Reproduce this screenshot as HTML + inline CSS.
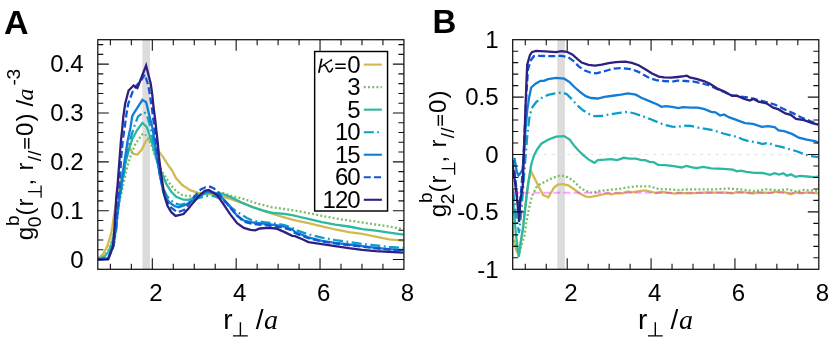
<!DOCTYPE html>
<html><head><meta charset="utf-8"><title>chart</title>
<style>html,body{margin:0;padding:0;background:#fff}body{width:830px;height:342px;overflow:hidden;font-family:"Liberation Sans",sans-serif}</style>
</head><body>
<svg width="830" height="342" viewBox="0 0 830 342" style="display:block;font-family:'Liberation Sans',sans-serif;will-change:transform;filter:blur(0.45px)">
<rect width="830" height="342" fill="#fff"/>
<clipPath id="clipA"><rect x="97.80" y="39.70" width="306.10" height="229.60"/></clipPath>
<rect x="142.40" y="39.70" width="7.60" height="229.60" fill="#dcdcdc"/>
<g clip-path="url(#clipA)" fill="none" stroke-width="2.30" stroke-linejoin="miter" stroke-miterlimit="6">
<path d="M98.1 258.1 L102.4 255.0 L107.3 246.4 L111.0 234.1 L112.2 228.0 L114.0 215.0 L117.0 198.0 L120.5 180.0 L125.2 160.6 L128.9 146.5 L133.2 153.9 L137.5 154.5 L141.8 149.6 L146.1 140.4 L149.1 139.7 L152.5 142.0 L156.0 147.0 L159.4 152.1 L163.6 157.8 L168.8 166.0 L172.5 171.1 L175.9 178.0 L182.3 185.0 L187.2 188.3 L190.0 190.2 L198.1 192.9 L210.2 194.2 L220.9 196.2 L230.3 198.9 L243.8 203.6 L254.6 207.7 L265.3 211.7 L276.1 215.0 L284.1 217.3 L292.2 219.6 L300.0 221.5 L308.4 223.2 L321.9 226.3 L335.3 229.5 L348.8 232.1 L362.2 233.9 L375.7 236.6 L389.1 239.3 L403.5 240.7" stroke="#D2B951"/>
<path d="M98.1 258.5 L104.0 256.0 L108.5 250.0 L112.0 241.0 L115.0 228.0 L117.5 213.0 L120.3 198.1 L124.6 178.4 L128.2 163.5 L130.7 155.7 L135.6 143.4 L143.0 133.6 L147.3 136.0 L151.6 145.9 L153.4 151.4 L157.0 161.0 L161.4 171.1 L166.3 178.4 L171.3 185.8 L176.2 191.2 L182.0 195.0 L187.0 196.0 L193.2 196.0 L200.0 195.5 L210.0 193.5 L220.9 192.2 L230.3 195.6 L243.8 198.9 L257.2 203.6 L270.7 207.0 L284.1 209.0 L295.0 210.6 L308.4 213.1 L321.9 215.8 L335.3 218.4 L348.8 220.5 L362.2 222.5 L375.7 224.5 L389.1 226.5 L403.5 229.3" stroke="#7BBF6A" stroke-dasharray="2 2.2"/>
<path d="M98.1 258.8 L104.0 257.0 L108.5 252.0 L112.0 243.0 L114.5 232.0 L116.5 218.0 L118.4 203.0 L121.5 186.0 L125.2 164.3 L128.9 149.6 L132.6 138.5 L136.9 130.5 L138.1 128.7 L142.4 122.9 L146.7 126.9 L148.6 132.0 L152.8 145.9 L157.4 162.2 L161.4 172.3 L166.3 183.9 L171.3 191.8 L176.2 196.7 L183.5 199.7 L188.5 199.9 L193.4 198.1 L198.1 195.6 L208.8 192.9 L220.9 193.5 L230.3 196.9 L241.1 202.3 L251.9 207.0 L262.6 210.3 L273.4 213.0 L284.1 213.9 L292.2 215.2 L300.0 217.0 L308.4 218.9 L321.9 222.1 L335.3 224.7 L348.8 226.5 L362.2 229.2 L375.7 230.6 L389.1 232.6 L403.5 234.7" stroke="#2DB8A2"/>
<path d="M98.1 259.2 L108.5 258.3 L113.8 245.0 L116.5 228.0 L118.4 203.0 L122.1 184.6 L126.4 158.0 L130.1 139.7 L134.6 125.3 L138.1 116.4 L144.2 111.9 L147.3 116.4 L149.8 124.4 L152.0 135.0 L154.5 148.0 L157.5 163.0 L160.5 178.0 L163.5 189.0 L167.0 196.0 L171.0 200.5 L175.0 203.5 L179.9 204.8 L186.0 203.6 L192.0 201.0 L198.1 198.2 L206.1 196.2 L214.2 196.2 L221.0 199.0 L227.7 205.0 L234.4 210.0 L241.1 214.4 L247.0 218.0 L253.2 220.8 L265.3 222.3 L276.1 223.7 L284.1 225.0 L292.2 227.7 L295.0 229.9 L308.4 234.3 L321.9 237.6 L335.3 240.1 L348.8 242.0 L362.2 244.0 L375.7 245.5 L389.1 246.9 L403.5 248.0" stroke="#0B9FC7" stroke-dasharray="10 3.5 1.8 3.5" stroke-linecap="butt"/>
<path d="M98.1 259.3 L108.5 258.5 L113.5 246.0 L116.0 228.0 L118.0 210.0 L120.5 190.0 L124.6 160.6 L127.6 141.0 L130.4 128.0 L132.2 116.4 L133.8 113.3 L142.4 99.8 L146.1 102.3 L149.1 114.6 L152.2 126.9 L154.5 140.0 L157.0 158.0 L160.0 176.0 L163.0 190.0 L166.0 198.0 L170.0 203.0 L174.5 206.0 L178.6 207.3 L186.0 204.8 L193.4 199.9 L198.0 196.5 L203.0 193.2 L208.0 191.7 L213.0 192.5 L218.2 194.5 L223.6 199.6 L229.0 205.0 L237.1 215.8 L243.8 220.5 L253.2 222.5 L265.3 223.8 L276.1 225.2 L284.1 226.5 L292.2 229.2 L295.0 232.0 L308.4 237.4 L321.9 240.8 L335.3 242.8 L348.8 244.5 L362.2 246.1 L375.7 247.8 L389.1 249.1 L403.5 250.2" stroke="#117DD6"/>
<path d="M98.1 259.3 L108.5 258.5 L113.5 245.0 L115.5 228.0 L117.5 205.0 L119.5 184.0 L120.9 161.9 L122.7 141.0 L124.6 128.0 L126.4 114.6 L128.3 103.5 L132.3 92.5 L136.6 85.5 L141.0 80.5 L144.8 74.5 L148.4 85.6 L149.1 90.0 L151.6 106.0 L154.1 125.6 L156.0 142.0 L158.0 160.0 L160.5 176.0 L163.5 193.0 L167.0 202.0 L171.5 208.0 L177.4 212.2 L184.0 210.0 L189.0 204.0 L194.0 196.9 L200.8 189.5 L205.5 187.3 L210.2 186.8 L214.0 188.5 L218.2 192.2 L223.6 199.6 L230.3 207.7 L235.7 214.0 L243.8 221.8 L253.2 224.0 L265.3 225.2 L276.1 226.5 L284.1 227.8 L292.2 230.4 L295.0 233.0 L308.4 238.2 L321.9 241.4 L335.3 243.4 L348.8 245.1 L362.2 246.7 L375.7 248.3 L389.1 249.6 L403.5 250.6" stroke="#0F57D8" stroke-dasharray="7 3.2"/>
<path d="M98.1 259.7 L107.9 259.3 L113.0 246.0 L114.4 230.0 L115.2 215.0 L116.2 198.0 L117.6 184.6 L119.4 161.0 L120.9 141.0 L122.3 128.0 L123.3 117.0 L125.2 103.5 L128.6 90.5 L133.6 85.5 L137.4 88.0 L146.1 65.5 L150.7 83.5 L152.3 95.0 L153.4 106.0 L155.3 120.7 L156.3 130.0 L157.7 142.2 L159.3 160.0 L161.4 176.0 L164.5 196.0 L167.6 206.0 L171.3 212.2 L175.6 215.9 L183.5 214.0 L188.5 208.5 L193.4 202.4 L198.1 196.9 L204.8 190.8 L208.8 189.9 L216.9 194.9 L223.6 204.3 L230.3 214.4 L237.1 223.2 L243.8 227.9 L250.5 229.9 L255.2 230.3 L259.9 228.5 L268.0 227.9 L276.1 228.5 L284.1 231.9 L292.2 235.9 L295.0 236.2 L303.0 239.5 L308.4 242.1 L321.9 244.1 L335.3 246.1 L348.8 248.2 L362.2 249.9 L375.7 251.2 L389.1 251.9 L403.5 252.6" stroke="#2E2080"/>
</g>
<path d="M110.38 269.30v-5.5M110.38 39.70v5.5M131.35 269.30v-5.5M131.35 39.70v5.5M173.28 269.30v-5.5M173.28 39.70v5.5M194.24 269.30v-5.5M194.24 39.70v5.5M215.21 269.30v-5.5M215.21 39.70v5.5M257.14 269.30v-5.5M257.14 39.70v5.5M278.11 269.30v-5.5M278.11 39.70v5.5M299.07 269.30v-5.5M299.07 39.70v5.5M341.00 269.30v-5.5M341.00 39.70v5.5M361.97 269.30v-5.5M361.97 39.70v5.5M382.93 269.30v-5.5M382.93 39.70v5.5M152.31 269.30v-11M152.31 39.70v11M236.17 269.30v-11M236.17 39.70v11M320.04 269.30v-11M320.04 39.70v11M97.80 249.76h5.5M403.90 249.76h-5.5M97.80 239.99h5.5M403.90 239.99h-5.5M97.80 230.22h5.5M403.90 230.22h-5.5M97.80 220.45h5.5M403.90 220.45h-5.5M97.80 200.91h5.5M403.90 200.91h-5.5M97.80 191.14h5.5M403.90 191.14h-5.5M97.80 181.37h5.5M403.90 181.37h-5.5M97.80 171.60h5.5M403.90 171.60h-5.5M97.80 152.06h5.5M403.90 152.06h-5.5M97.80 142.29h5.5M403.90 142.29h-5.5M97.80 132.52h5.5M403.90 132.52h-5.5M97.80 122.75h5.5M403.90 122.75h-5.5M97.80 103.21h5.5M403.90 103.21h-5.5M97.80 93.44h5.5M403.90 93.44h-5.5M97.80 83.67h5.5M403.90 83.67h-5.5M97.80 73.90h5.5M403.90 73.90h-5.5M97.80 54.36h5.5M403.90 54.36h-5.5M97.80 44.59h5.5M403.90 44.59h-5.5M97.80 259.53h11M403.90 259.53h-11M97.80 210.68h11M403.90 210.68h-11M97.80 161.83h11M403.90 161.83h-11M97.80 112.98h11M403.90 112.98h-11M97.80 64.13h11M403.90 64.13h-11" stroke="#111" stroke-width="1.1" fill="none"/>
<rect x="97.80" y="39.70" width="306.10" height="229.60" fill="none" stroke="#111" stroke-width="1.25"/>
<text x="83.70" y="267.83" font-size="24" text-anchor="end">0</text>
<text x="83.70" y="218.98" font-size="24" text-anchor="end">0.1</text>
<text x="83.70" y="170.13" font-size="24" text-anchor="end">0.2</text>
<text x="83.70" y="121.28" font-size="24" text-anchor="end">0.3</text>
<text x="83.70" y="72.43" font-size="24" text-anchor="end">0.4</text>
<text x="155.91" y="300.60" font-size="24" text-anchor="middle">2</text>
<text x="239.77" y="300.60" font-size="24" text-anchor="middle">4</text>
<text x="323.64" y="300.60" font-size="24" text-anchor="middle">6</text>
<text x="407.50" y="300.60" font-size="24" text-anchor="middle">8</text>
<text x="223.20" y="328.8" font-size="28">r</text>
<path d="M233.00 335.9H247.80M240.40 335.9V322.3" stroke="#000" stroke-width="1.4" fill="none"/>
<text x="255.70" y="328.8" font-size="28">/</text>
<text x="264.00" y="328.8" font-size="28" font-family="'Liberation Serif',serif" font-style="italic">a</text>
<clipPath id="clipB"><rect x="512.70" y="39.70" width="306.10" height="229.60"/></clipPath>
<rect x="557.30" y="39.70" width="7.60" height="229.60" fill="#dcdcdc"/>
<path d="M512.70 154.50H818.80" stroke="#e3e3e3" stroke-width="1" stroke-dasharray="3.2 4.6" fill="none"/>
<g clip-path="url(#clipB)" fill="none" stroke-width="2.30" stroke-linejoin="miter" stroke-miterlimit="6">
<path d="M512.9 222.0 L512.9 237.8 L516.6 251.3 L519.0 254.0 L522.0 235.0 L524.5 215.0 L526.7 195.0 L528.8 180.0 L531.2 171.5 L534.6 178.2 L538.6 186.5 L543.1 195.0 L548.4 197.2 L553.7 188.0 L557.7 184.7 L563.0 184.1 L568.3 185.3 L574.9 189.8 L580.2 193.8 L585.5 196.4 L589.5 197.2 L596.1 195.8 L602.8 194.3 L608.1 193.4 L611.4 194.5 L614.7 193.3 L622.5 193.3 L627.9 191.4 L631.9 192.4 L637.3 191.4 L645.3 190.3 L652.1 192.0 L656.1 193.0 L662.8 192.0 L668.2 192.8 L674.9 193.7 L680.3 192.8 L688.4 193.3 L699.1 192.8 L707.2 192.5 L715.0 192.6 L723.4 192.5 L732.9 193.4 L736.9 192.0 L745.0 192.3 L753.0 193.6 L757.1 192.5 L770.5 192.9 L775.9 191.6 L785.3 192.3 L790.7 194.3 L796.1 192.3 L801.4 193.4 L806.8 192.3 L818.3 193.4" stroke="#D2B951"/>
<path d="M513.0 236.0 L518.4 254.4 L521.0 247.0 L524.6 235.4 L526.4 221.9 L528.3 212.1 L530.1 203.5 L532.0 196.1 L534.4 191.2 L535.9 187.7 L540.0 184.3 L545.3 181.6 L552.1 178.2 L558.8 175.8 L564.2 175.8 L569.6 178.2 L574.9 182.3 L580.3 187.7 L585.7 191.0 L592.4 192.8 L599.1 191.0 L605.9 190.1 L618.4 189.0 L627.9 187.4 L637.3 186.3 L649.4 186.3 L658.8 189.0 L669.6 189.3 L677.6 190.1 L688.4 189.3 L699.1 189.3 L712.0 189.5 L728.8 188.5 L742.3 189.6 L754.4 191.2 L766.5 189.3 L777.2 190.3 L788.0 189.3 L796.1 191.6 L804.1 189.9 L818.3 190.9" stroke="#7BBF6A" stroke-dasharray="2 2.2"/>
<path d="M512.7 195.0 L514.1 213.0 L516.0 235.0 L518.8 256.9 L521.0 240.0 L522.8 230.0 L525.2 208.4 L527.2 190.3 L529.2 176.9 L531.2 164.8 L533.9 155.6 L537.3 149.2 L541.3 143.7 L548.0 139.7 L556.1 136.7 L564.2 136.1 L569.6 139.5 L574.9 146.6 L579.0 151.0 L583.0 154.8 L588.4 159.4 L594.4 162.8 L597.8 160.1 L604.5 159.7 L611.1 159.1 L617.1 160.1 L623.8 157.8 L629.2 158.7 L635.9 158.7 L641.3 160.1 L645.3 160.1 L649.4 161.8 L653.4 162.1 L658.1 164.8 L665.5 165.1 L673.6 166.1 L681.7 167.5 L686.4 165.9 L691.1 167.2 L696.4 168.2 L703.2 166.8 L711.2 168.3 L723.4 168.9 L732.9 169.7 L736.9 171.4 L740.9 170.7 L746.3 171.9 L754.4 172.9 L762.4 173.0 L770.0 174.9 L774.6 173.2 L779.2 174.5 L783.3 173.2 L787.0 175.7 L791.0 174.3 L795.4 176.8 L800.1 175.8 L806.8 176.5 L813.6 177.2 L818.3 176.7" stroke="#2DB8A2"/>
<path d="M513.0 190.0 L516.0 215.0 L519.0 233.0 L521.0 215.0 L523.0 190.0 L524.5 170.0 L525.8 153.0 L527.2 136.9 L529.2 119.0 L531.5 108.5 L535.9 102.3 L541.3 98.2 L548.0 94.9 L556.1 93.1 L562.8 92.6 L566.9 94.2 L572.2 99.6 L577.6 105.6 L583.0 110.3 L588.4 113.7 L594.4 116.2 L601.8 116.0 L607.2 114.8 L613.1 113.9 L621.1 112.6 L627.9 111.9 L634.6 113.5 L642.7 116.2 L650.7 119.3 L658.8 122.7 L665.5 125.1 L672.2 126.7 L677.6 127.0 L683.0 125.6 L691.1 126.0 L699.1 127.8 L707.2 129.1 L714.0 130.5 L723.4 133.5 L736.9 136.9 L743.6 139.7 L750.3 141.5 L757.1 142.3 L762.4 144.1 L767.8 142.8 L774.6 145.4 L782.6 147.2 L790.7 149.5 L797.4 151.5 L804.1 154.2 L809.5 155.8 L818.3 157.1" stroke="#0B9FC7" stroke-dasharray="10 3.5 1.8 3.5" stroke-linecap="butt"/>
<path d="M514.4 157.9 L516.8 171.9 L518.5 175.4 L520.5 173.0 L522.6 169.6 L524.2 150.0 L525.5 130.0 L527.2 110.3 L529.2 96.9 L531.2 87.5 L535.9 83.4 L540.6 80.8 L544.0 80.8 L548.0 79.1 L556.1 77.8 L564.2 78.7 L569.6 82.1 L574.9 87.5 L580.3 92.2 L585.7 96.2 L591.1 98.0 L597.8 98.5 L604.5 96.9 L614.4 95.5 L621.1 94.7 L627.9 93.3 L635.9 94.7 L641.3 97.8 L649.4 101.1 L657.4 104.5 L661.5 106.8 L665.5 106.2 L672.2 106.8 L678.3 108.1 L683.0 107.2 L691.1 107.6 L697.8 107.6 L704.5 109.2 L711.2 111.9 L715.4 112.4 L720.1 115.5 L724.1 114.5 L728.8 117.2 L736.9 120.2 L745.0 123.1 L753.0 123.9 L761.8 126.9 L767.8 126.2 L774.6 127.2 L778.6 130.3 L784.0 131.2 L792.0 133.9 L798.8 137.7 L806.8 139.7 L814.9 141.2 L818.3 142.6" stroke="#117DD6"/>
<path d="M512.7 160.0 L515.0 175.0 L517.0 195.0 L518.8 212.0 L520.8 195.0 L522.8 170.0 L524.3 140.0 L525.8 105.0 L527.9 70.0 L530.6 60.6 L533.9 56.2 L538.6 55.8 L552.1 56.2 L561.5 55.8 L568.2 57.2 L573.6 61.2 L579.0 66.6 L584.3 70.2 L591.1 72.9 L596.4 73.3 L601.8 72.0 L608.6 70.0 L611.7 68.9 L621.1 68.1 L631.9 69.2 L640.0 72.6 L648.0 77.3 L656.1 80.2 L664.2 81.0 L672.2 81.6 L677.6 80.6 L685.7 81.0 L693.8 81.6 L701.8 83.3 L709.9 85.6 L718.0 89.5 L725.0 92.3 L732.0 95.5 L740.0 96.5 L747.7 97.3 L755.7 99.3 L766.5 102.0 L774.6 104.5 L782.6 108.5 L789.3 111.5 L793.4 113.4 L801.4 117.5 L809.5 120.8 L818.3 124.4" stroke="#0F57D8" stroke-dasharray="7 3.2"/>
<path d="M512.7 166.0 L515.0 182.0 L517.2 200.0 L519.1 222.0 L520.4 199.7 L522.7 187.0 L523.8 155.7 L525.2 115.7 L526.5 80.7 L527.2 64.6 L529.9 55.2 L531.9 52.2 L535.9 50.9 L545.3 51.4 L556.1 52.2 L561.5 51.1 L566.9 51.8 L572.2 54.5 L577.6 59.2 L581.7 62.6 L588.4 64.9 L595.1 65.7 L601.8 64.6 L608.6 63.2 L615.8 62.2 L625.2 61.7 L631.9 62.8 L638.6 65.2 L645.3 69.2 L652.1 73.5 L658.8 76.6 L664.2 77.3 L670.9 77.7 L677.6 77.0 L684.3 76.2 L686.8 75.7 L689.7 77.3 L696.4 78.9 L704.5 81.3 L709.9 83.7 L718.1 88.9 L724.8 91.9 L732.2 95.9 L736.9 95.7 L743.6 98.6 L749.7 100.6 L753.7 98.9 L758.4 101.6 L766.5 103.3 L773.2 107.6 L778.6 109.4 L785.3 113.4 L790.7 114.8 L796.1 118.8 L804.1 120.2 L812.2 123.1 L818.3 124.6" stroke="#2E2080"/>
</g>
<path d="M512.70 192.85H818.80" stroke="#FF00FF" stroke-opacity="0.36" stroke-width="2" stroke-dasharray="6.9 3.275" fill="none"/>
<path d="M525.28 269.30v-5.5M525.28 39.70v5.5M546.25 269.30v-5.5M546.25 39.70v5.5M588.18 269.30v-5.5M588.18 39.70v5.5M609.14 269.30v-5.5M609.14 39.70v5.5M630.11 269.30v-5.5M630.11 39.70v5.5M672.04 269.30v-5.5M672.04 39.70v5.5M693.01 269.30v-5.5M693.01 39.70v5.5M713.97 269.30v-5.5M713.97 39.70v5.5M755.90 269.30v-5.5M755.90 39.70v5.5M776.87 269.30v-5.5M776.87 39.70v5.5M797.83 269.30v-5.5M797.83 39.70v5.5M567.21 269.30v-11M567.21 39.70v11M651.07 269.30v-11M651.07 39.70v11M734.94 269.30v-11M734.94 39.70v11M512.70 257.82h5.5M818.80 257.82h-5.5M512.70 246.34h5.5M818.80 246.34h-5.5M512.70 234.86h5.5M818.80 234.86h-5.5M512.70 223.38h5.5M818.80 223.38h-5.5M512.70 200.42h5.5M818.80 200.42h-5.5M512.70 188.94h5.5M818.80 188.94h-5.5M512.70 177.46h5.5M818.80 177.46h-5.5M512.70 165.98h5.5M818.80 165.98h-5.5M512.70 143.02h5.5M818.80 143.02h-5.5M512.70 131.54h5.5M818.80 131.54h-5.5M512.70 120.06h5.5M818.80 120.06h-5.5M512.70 108.58h5.5M818.80 108.58h-5.5M512.70 85.62h5.5M818.80 85.62h-5.5M512.70 74.14h5.5M818.80 74.14h-5.5M512.70 62.66h5.5M818.80 62.66h-5.5M512.70 51.18h5.5M818.80 51.18h-5.5M512.70 211.90h11M818.80 211.90h-11M512.70 154.50h11M818.80 154.50h-11M512.70 97.10h11M818.80 97.10h-11" stroke="#111" stroke-width="1.1" fill="none"/>
<rect x="512.70" y="39.70" width="306.10" height="229.60" fill="none" stroke="#111" stroke-width="1.25"/>
<text x="498.60" y="277.60" font-size="24" text-anchor="end">-1</text>
<text x="498.60" y="220.20" font-size="24" text-anchor="end">-0.5</text>
<text x="498.60" y="162.80" font-size="24" text-anchor="end">0</text>
<text x="498.60" y="105.40" font-size="24" text-anchor="end">0.5</text>
<text x="498.60" y="48.00" font-size="24" text-anchor="end">1</text>
<text x="570.81" y="300.60" font-size="24" text-anchor="middle">2</text>
<text x="654.67" y="300.60" font-size="24" text-anchor="middle">4</text>
<text x="738.54" y="300.60" font-size="24" text-anchor="middle">6</text>
<text x="822.40" y="300.60" font-size="24" text-anchor="middle">8</text>
<text x="638.10" y="328.8" font-size="28">r</text>
<path d="M647.90 335.9H662.70M655.30 335.9V322.3" stroke="#000" stroke-width="1.4" fill="none"/>
<text x="670.60" y="328.8" font-size="28">/</text>
<text x="678.90" y="328.8" font-size="28" font-family="'Liberation Serif',serif" font-style="italic">a</text>
<text x="3.9" y="33.5" font-size="34" font-weight="bold">A</text>
<text x="432.5" y="33.3" font-size="33" font-weight="bold">B</text>
<g transform="translate(32.50,0.00) rotate(-90)"><text x="-240.30" y="0.00" font-size="24">g</text><text x="-227.20" y="8.30" font-size="19.2">0</text><text x="-225.90" y="-14.00" font-size="19.2">b</text><text x="-215.60" y="0.00" font-size="24">(</text><text x="-206.60" y="0.00" font-size="24">r</text><path d="M-197.7 8.6H-185.5M-191.6 8.6V-4.4" stroke="#000" stroke-width="1.25" fill="none"/><text x="-185.60" y="0.00" font-size="24">,</text><text x="-170.50" y="0.00" font-size="24">r</text><text x="-161.20" y="8.30" font-size="19.2">//</text><path d="M-148.8 -7.6H-138.1M-148.8 -3.8H-138.1" stroke="#000" stroke-width="1.5" fill="none"/><text x="-136.00" y="0.00" font-size="24">0</text><text x="-121.40" y="0.00" font-size="24">)</text><text x="-106.60" y="0.00" font-size="24">/</text><text x="-100.60" y="0.00" font-size="24" font-family="'Liberation Serif',serif" font-style="italic">a</text><text x="-85.60" y="-12.20" font-size="19.2">-</text><text x="-79.40" y="-12.20" font-size="19.2">3</text></g>
<g transform="translate(446.00,-23.00) rotate(-90)"><text x="-240.30" y="0.00" font-size="24">g</text><text x="-227.20" y="8.30" font-size="19.2">2</text><text x="-225.90" y="-14.00" font-size="19.2">b</text><text x="-215.60" y="0.00" font-size="24">(</text><text x="-206.60" y="0.00" font-size="24">r</text><path d="M-197.7 8.6H-185.5M-191.6 8.6V-4.4" stroke="#000" stroke-width="1.25" fill="none"/><text x="-185.60" y="0.00" font-size="24">,</text><text x="-170.50" y="0.00" font-size="24">r</text><text x="-161.20" y="8.30" font-size="19.2">//</text><path d="M-148.8 -7.6H-138.1M-148.8 -3.8H-138.1" stroke="#000" stroke-width="1.5" fill="none"/><text x="-136.00" y="0.00" font-size="24">0</text><text x="-121.40" y="0.00" font-size="24">)</text></g>
<rect x="314.65" y="51.50" width="72.90" height="159.50" fill="#fff" stroke="#000" stroke-width="1.45"/>
<path d="M363.80 64.60H381.9" stroke="#D2B951" stroke-width="2.10" fill="none"/>
<text x="359.6" y="72.60" font-size="24" text-anchor="end" letter-spacing="-1">0</text>
<path d="M363.80 87.13H381.9" stroke="#7BBF6A" stroke-width="2.10" fill="none" stroke-dasharray="2 2.2"/>
<text x="359.6" y="95.13" font-size="24" text-anchor="end" letter-spacing="-1">3</text>
<path d="M363.80 109.66H381.9" stroke="#2DB8A2" stroke-width="2.10" fill="none"/>
<text x="359.6" y="117.66" font-size="24" text-anchor="end" letter-spacing="-1">5</text>
<path d="M363.80 132.19H381.9" stroke="#0B9FC7" stroke-width="2.10" fill="none" stroke-dasharray="10 3.5 1.8 3.5"/>
<text x="359.6" y="140.19" font-size="24" text-anchor="end" letter-spacing="-1">10</text>
<path d="M363.80 154.72H381.9" stroke="#117DD6" stroke-width="2.10" fill="none"/>
<text x="359.6" y="162.72" font-size="24" text-anchor="end" letter-spacing="-1">15</text>
<path d="M363.80 177.25H381.9" stroke="#0F57D8" stroke-width="2.10" fill="none" stroke-dasharray="7 3.2"/>
<text x="359.6" y="185.25" font-size="24" text-anchor="end" letter-spacing="-1">60</text>
<path d="M363.80 199.78H381.9" stroke="#2E2080" stroke-width="2.10" fill="none"/>
<text x="359.6" y="207.78" font-size="24" text-anchor="end" letter-spacing="-1">120</text>
<g fill="none" stroke="#000" stroke-linecap="round"><path d="M321.6 59.4L319.0 72.1" stroke-width="1.8"/><path d="M321.0 66.9C324.2 65.4 327.0 62.3 330.6 60.5" stroke-width="1.3"/><circle cx="331.1" cy="60.3" r="0.55" stroke-width="1.1"/><path d="M323.6 65.3C327.6 65.0 327.0 72.2 329.6 72.0C331.0 71.9 332.0 70.2 332.5 68.4" stroke-width="1.5"/></g>
<path d="M335.3 64.2H345.7M335.3 68.3H345.7" stroke="#000" stroke-width="1.6" fill="none"/>
</svg>
</body></html>
